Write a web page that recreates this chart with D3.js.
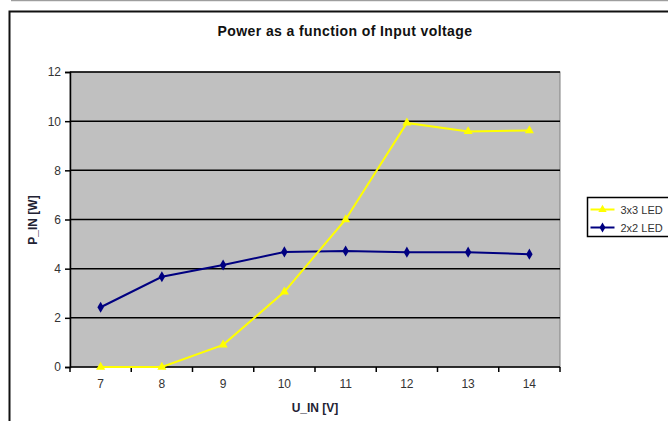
<!DOCTYPE html>
<html>
<head>
<meta charset="utf-8">
<title>Power as a function of input voltage</title>
<script src="https://cdn.jsdelivr.net/npm/d3@7"></script>
<style>
  body { margin:0; background:#fff; }
  text { font-family: Arial, "Liberation Sans", sans-serif; }
</style>
</head>
<body>
<script>
// data
var voltages = [7, 8, 9, 10, 11, 12, 13, 14];
var led3x3 = [0, 0, 0.9, 3.06, 6.0, 9.93, 9.58, 9.62];
var led2x2 = [2.43, 3.67, 4.15, 4.68, 4.72, 4.67, 4.67, 4.59];
var yTicks = [0, 2, 4, 6, 8, 10, 12];
var seriesNames = ["3x3 LED", "2x2 LED"];

var W = 668, H = 421;
var plot = {left: 70, right: 560, top: 72, bottom: 367};

var svg = d3.select("body").append("svg")
    .attr("width", W).attr("height", H);

// page rule at top + chart frame
svg.append("line").attr("x1", 11).attr("x2", W).attr("y1", 0.7).attr("y2", 0.7)
    .attr("stroke", "#888").attr("stroke-width", 1);
svg.append("rect").attr("x", 9.5).attr("y", 11.5).attr("width", 700).attr("height", 450)
    .attr("fill", "#fff").attr("stroke", "#111").attr("stroke-width", 2);

var x = d3.scaleBand().domain(voltages).range([plot.left, plot.right]);
var y = d3.scaleLinear().domain([0, 12]).range([plot.bottom, plot.top]);
var cx = function(d) { return x(d) + x.bandwidth() / 2; };

// plot background
svg.append("rect").attr("x", plot.left).attr("y", plot.top)
    .attr("width", plot.right - plot.left).attr("height", plot.bottom - plot.top)
    .attr("fill", "#c0c0c0").attr("stroke", "#808080").attr("stroke-width", 1);

// gridlines
svg.append("g").selectAll("line").data(yTicks.filter(function(t){ return t > 0; }))
    .enter().append("line")
    .attr("x1", plot.left).attr("x2", plot.right)
    .attr("y1", function(d){ return y(d); }).attr("y2", function(d){ return y(d); })
    .attr("stroke", "#000").attr("stroke-width", 1.5);

// y axis
var yAxis = svg.append("g").attr("transform", "translate(" + plot.left + ",0)")
    .call(d3.axisLeft(y).tickValues(yTicks).tickSize(5).tickPadding(4));
yAxis.select(".domain").attr("stroke", "#000").attr("stroke-width", 1.5);
yAxis.selectAll(".tick line").attr("stroke", "#000").attr("stroke-width", 1.5);
yAxis.selectAll("text").attr("font-size", 12).attr("fill", "#333");

// x axis: ticks at category boundaries, labels centered
var xAxisG = svg.append("g").attr("transform", "translate(0," + plot.bottom + ")");
xAxisG.append("line").attr("x1", plot.left).attr("x2", plot.right)
    .attr("stroke", "#000").attr("stroke-width", 1.5);
var bounds = voltages.map(function(d){ return x(d); }).concat([plot.right]);
xAxisG.selectAll("line.tk").data(bounds).enter().append("line").attr("class", "tk")
    .attr("x1", function(d){ return d; }).attr("x2", function(d){ return d; })
    .attr("y1", 0).attr("y2", 5).attr("stroke", "#000").attr("stroke-width", 1.5);
xAxisG.selectAll("text").data(voltages).enter().append("text")
    .attr("x", cx).attr("y", 21).attr("text-anchor", "middle")
    .attr("font-size", 12).attr("fill", "#333").text(function(d){ return d; });

// titles
svg.append("text").attr("x", 345).attr("y", 36).attr("text-anchor", "middle")
    .attr("font-size", 14).attr("font-weight", "bold").attr("fill", "#111")
    .attr("letter-spacing", 0.4)
    .text("Power as a function of Input voltage");
svg.append("text").attr("x", 315).attr("y", 412).attr("text-anchor", "middle")
    .attr("font-size", 12).attr("font-weight", "bold").attr("fill", "#223")
    .text("U_IN [V]");
svg.append("text").attr("transform", "translate(37,220) rotate(-90)")
    .attr("text-anchor", "middle")
    .attr("font-size", 12).attr("font-weight", "bold").attr("fill", "#223")
    .text("P_IN [W]");

// series
var line = d3.line().x(function(d, i){ return cx(voltages[i]); }).y(function(d){ return y(d); });
var series = [
  {name: seriesNames[0], values: led3x3, color: "#ffff00", symbol: d3.symbolTriangle},
  {name: seriesNames[1], values: led2x2, color: "#000080", symbol: d3.symbolDiamond}
];

series.slice().reverse().forEach(function(s) {
  svg.append("path").datum(s.values).attr("d", line)
      .attr("fill", "none").attr("stroke", s.color).attr("stroke-width", 2);
  svg.append("g").selectAll("path").data(s.values).enter().append("path")
      .attr("d", d3.symbol().type(s.symbol).size(36))
      .attr("transform", function(d, i){ return "translate(" + cx(voltages[i]) + "," + y(d) + ")"; })
      .attr("fill", s.color);
});

// legend
var lg = svg.append("g").attr("transform", "translate(587.5,197.5)");
lg.append("rect").attr("width", 100).attr("height", 39)
    .attr("fill", "#fff").attr("stroke", "#000").attr("stroke-width", 1.5);
series.forEach(function(s, i) {
  var yy = 12 + i * 18;
  lg.append("line").attr("x1", 3).attr("x2", 27).attr("y1", yy).attr("y2", yy)
      .attr("stroke", s.color).attr("stroke-width", 2);
  lg.append("path").attr("d", d3.symbol().type(s.symbol).size(30))
      .attr("transform", "translate(15," + yy + ")").attr("fill", s.color);
  lg.append("text").attr("x", 33).attr("y", yy + 4)
      .attr("font-size", 11).attr("fill", "#333").text(s.name);
});
</script>
</body>
</html>
